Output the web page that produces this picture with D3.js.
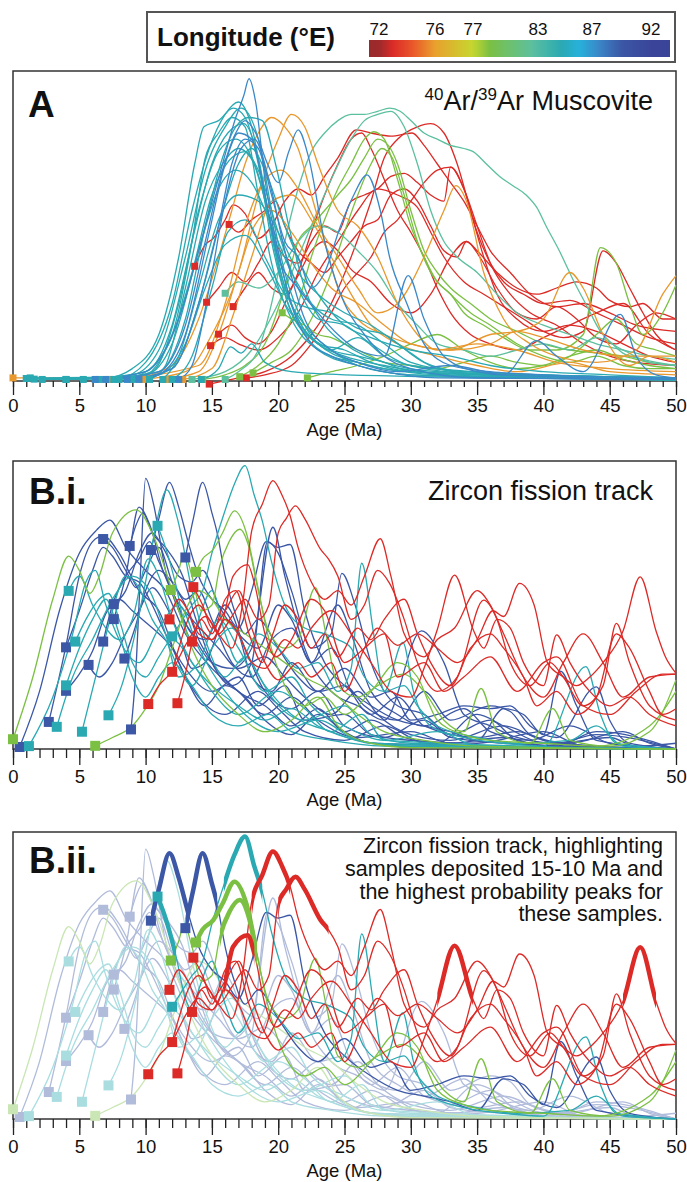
<!DOCTYPE html>
<html>
<head>
<meta charset="utf-8">
<script src="https://cdn.jsdelivr.net/npm/d3@7"></script>
<style>
  body { margin: 0; background: #fff; }
  svg { display: block; font-family: 'Liberation Sans', Arial, sans-serif; }
</style>
</head>
<body>
<svg id="chart" width="687" height="1182"></svg>
<script>
// ---- data (ages in Ma, relative probability 0-100 of panel height) ----
const ageTicks = [0, 5, 10, 15, 20, 25, 30, 35, 40, 45, 50]
const legendTicks = [72, 76, 77, 83, 87, 92]

// 40Ar/39Ar muscovite, one array of [age, probability] per sample, grouped by longitude colour
const arRed = [
  [[13.7,37],[14.5,44],[15.1,46],[16,52],[16.6,56.8],[17.5,54],[18.5,46],[19.5,50],[20.5,58],[21.5,62],[22.5,60],[23.5,66],[24.5,72],[25.9,81],[27,80],[28.5,79],[30.1,80],[31,76],[32,70],[33,64],[34,58],[35,50],[36,42],[37.5,35],[39,28],[41,24],[43,25],[45,22],[47,18],[50,16]],
  [[14.6,25.4],[15.5,30],[16.5,35],[17.5,32],[18.5,38],[19.5,45],[20.5,40],[21.5,38],[22.5,45],[23.5,50],[24.5,48],[25.5,58],[26.5,60],[27.5,62],[28.5,66],[29.5,67],[30.5,64],[31.5,60],[32.5,58],[33,69],[34,62],[35,48],[36,38],[37,32],[38.5,28],[40,25],[42,26],[44,22],[46,18],[48,14],[50,12]],
  [[16.3,50.5],[17,48],[18,52],[19,55],[19.8,58],[20.5,50],[21.5,42],[22.5,38],[23.5,35],[24.5,40],[25.5,45],[26.5,50],[27.5,52],[28.5,60],[29.5,62],[30.5,58],[31.5,50],[32.5,42],[33.5,40],[34.2,45],[35,42],[36.5,35],[38,30],[39.5,28],[41,30],[42.5,32],[44,30],[45,26],[46.5,24],[47.5,25],[49,20],[50,20]],
  [[15.5,15.1],[16.5,18],[17.5,14],[18.5,12],[19.5,16],[20.5,25],[21.5,35],[22.5,48],[23.5,60],[24.5,70],[25.5,78],[26.3,80],[27,75],[28,65],[29,55],[30,48],[31,40],[32,30],[33,22],[34.5,15],[36,12],[38,10],[40,14],[42,18],[44,22],[46,25],[48,15],[50,10]],
  [[14.9,11.4],[16,14],[17,12],[18.5,10],[20,14],[21.5,22],[23,35],[24.5,45],[26,55],[27.5,62],[29,60],[30.5,56],[31.5,48],[32.5,40],[34,32],[35.5,28],[37,24],[38.5,20],[40,16],[41.5,14],[43,16],[44.5,42],[45.5,38],[46.5,30],[47.5,22],[48.5,15],[50,10]],
  [[16.6,24],[17.5,30],[18.5,35],[19.5,30],[20.5,28],[21.5,34],[22.5,42],[23.5,45],[24.5,42],[25.5,36],[27,32],[28.5,25],[30,22],[31.5,28],[33,40],[34.2,45],[35.2,40],[36.5,30],[38,22],[39.5,20],[41,24],[42.5,20],[44,14],[45.5,12],[47,18],[48.5,22],[50,20]],
  [[14.8,-1],[17,1],[19,3],[21,8],[22.5,15],[24,25],[25.5,40],[27,58],[28,72],[29,78],[30.5,82],[31.5,83],[32.5,80],[33.5,70],[34.5,55],[35.5,40],[36.5,28],[38,20],[40,16],[42,18],[44,16],[46,12],[48,8],[50,6]],
  [[17.6,1],[19,2],[21,5],[22.5,12],[24,22],[25,30],[26,35],[27,40],[28,48],[29,52],[30,58],[31,64],[32,68],[33,69],[34,62],[35,50],[36,38],[37.5,28],[39,22],[41,18],[43,12],[45,8],[47,6],[50,5]]
]
const arOrange = [
  [[0,1],[9,1],[12,5],[14,20],[15.5,40],[16.5,55],[17.5,70],[18.5,80],[19.5,85],[20.5,82],[21.5,75],[22.5,60],[23.5,45],[24.5,30],[26,20],[28,15],[30,12],[33,10],[36,12],[38,16],[40,14],[43,10],[46,8],[50,8]],
  [[9.8,0.5],[13,3],[15,15],[17,35],[18.5,60],[20,78],[21,86],[22,82],[23,70],[24.5,55],[26,50],[27.5,40],[29,25],[30.5,15],[32,10],[35,12],[38,10],[41,6],[45,4],[50,3]],
  [[7.3,0.5],[14,5],[16,25],[17.5,50],[19,65],[20.2,68],[21.5,62],[23,50],[24.5,40],[26,30],[27.5,22],[29,25],[31,40],[32.5,55],[33.4,63],[34.2,58],[35.5,35],[37,20],[39,12],[41,8],[44,6],[47,10],[49,28],[50,34]],
  [[11.5,0.5],[14,3],[15.5,15],[17,35],[18.2,50],[19.5,55],[21,48],[22.5,38],[24,30],[26,25],[28,18],[30,12],[33,10],[36,15],[38,16],[40,20],[42,35],[43,30],[44.5,15],[46.5,5],[48,8],[50,6]],
  [[12.8,0.5],[15,4],[16.5,20],[18,40],[19.5,58],[21,60],[22.5,52],[24,40],[25.5,28],[27,18],[29,12],[32,8],[35,5],[38,3],[42,6],[45,3],[50,2]]
]
const arGreen = [
  [[17.1,1.4],[18.5,5],[20,12],[21.5,25],[22.5,40],[23.5,52],[24.5,62],[25.5,70],[26.5,78],[27.2,80.4],[28,78],[29,65],[30,50],[31,40],[32,32],[33,28],[34,22],[35.5,18],[37,14],[39,10],[41,10],[43,15],[44.3,43],[45.5,38],[46.5,25],[47.5,15],[49,22],[50,31]],
  [[18.1,2.6],[19.5,6],[21,10],[22.5,20],[24,35],[25,48],[26,60],[27,70],[27.8,75],[28.6,72],[29.5,60],[30.5,45],[31.5,35],[33,28],[34.5,22],[36,18],[38,12],[40,8],[42,6],[44,8],[46,5],[48,4],[50,4]],
  [[20.3,22],[21,20],[22,18],[23,15],[24,14],[25,12],[26,10],[27,8],[28,6],[30,5],[32,4],[34,6],[36,8],[38,6],[40,5],[42,8],[44,15],[45.5,20],[47,12],[48.5,10],[50,8]],
  [[22.2,1],[24,3],[26,5],[28,8],[30,12],[32,15],[34,10],[36,6],[38,4],[40,5],[42,8],[44,10],[46,7],[48,5],[50,4]],
  [[14.3,0.5],[16,2],[17.5,5],[19,12],[20.5,30],[21.5,45],[22.5,50],[23.5,55],[24.5,60],[25.5,65],[26.5,72],[27.5,78],[28.3,76],[29,70],[30,55],[31,42],[32,35],[33,30],[34.5,25],[36,20],[38,16],[40,12],[42,10],[44,9],[46,8],[48,6],[50,5]]
]
const arMint = [
  [[16,28.3],[17,32],[18.5,30],[20,35],[21.5,45],[23,50],[24.5,48],[26,42],[27.5,35],[29,25],[30.5,18],[32,12],[34,10],[36,8],[38,10],[40,12],[42,10],[44,14],[46,10],[48,6],[50,5]],
  [[16,0.5],[17,3],[18.5,10],[19.5,25],[20.5,45],[21.5,62],[22.5,74],[23.5,80],[24.5,84],[25.5,86],[26.5,86],[27.5,87],[28.4,88],[29.2,87],[30,84],[31,80],[32,78],[33,76],[34,75],[34.7,74],[35.7,70],[36.7,66],[37.7,63],[38.7,60],[39.5,56],[40.2,50],[41.2,42],[42.2,33],[43.3,24],[44.3,16],[45.2,12],[46,9],[47.5,7],[50,5]],
  [[13.5,0.5],[16,3],[18,10],[20,25],[22,45],[24,65],[25.5,78],[26.5,84],[27.5,86],[28.5,87],[29.5,82],[30.5,70],[31.5,55],[32.5,45],[33.5,40],[35,35],[36.5,28],[38,22],[40,18],[42,15],[44,12],[46,10],[48,8],[50,7]]
]
const arTeal = [
  [[1.0,0.8],[7,1],[9,4],[11,15],[12.5,40],[13.7,70],[14.4,82],[15.5,84],[16.6,88],[17.5,85],[18.5,70],[19.5,45],[20.5,28],[22,15],[24,8],[26,6],[28,4],[32,2],[40,1],[50,0.5]],
  [[1.6,0.6],[8,1],[10,6],[12,25],[13.5,55],[14.8,75],[16,86],[17,90],[18,82],[19,60],[20,38],[21.5,20],[23,12],[25,10],[27,6],[30,3],[35,2],[50,0.5]],
  [[4,0.5],[9,2],[11,10],[13,40],[14.5,68],[16,82],[17.2,88],[18.5,78],[19.5,55],[20.5,35],[22,18],[24,10],[26,14],[28,8],[31,4],[36,2],[50,0.5]],
  [[5.3,0.5],[10,3],[12,18],[13.5,45],[15,70],[16.2,80],[17.4,83],[18.6,70],[19.6,45],[21,22],[23,12],[25,8],[28,5],[33,2],[50,0.3]],
  [[7.6,0.5],[10.5,3],[12.5,25],[14,55],[15.5,74],[16.8,78],[18,72],[19.2,55],[20.5,30],[22,18],[24,10],[26,5],[30,2],[50,0.3]],
  [[10.3,0.5],[11.5,5],[13,30],[14.5,58],[15.8,70],[17,75],[18.2,70],[19.5,50],[21,25],[23,12],[26,6],[30,3],[50,0.3]],
  [[1.3,1],[9,1.5],[11.5,10],[13.5,35],[15,60],[16.5,72],[17.5,74],[18.5,68],[20,48],[21.5,30],[23,20],[25,18],[27,12],[30,5],[35,3],[50,1]],
  [[4,0.5],[10,2],[12,12],[14,42],[15.5,62],[16.8,68],[18,64],[19.5,50],[21,35],[22.5,25],[24,20],[26,18],[28,12],[30,6],[34,3],[50,1]],
  [[11.3,0.5],[12.5,8],[14,30],[15.5,52],[17,60],[18.5,58],[20,48],[21.5,35],[23,28],[25,22],[27,18],[29,12],[31,6],[34,3],[50,1]],
  [[12,0.5],[13.5,8],[15,30],[16.2,48],[17.5,52],[19,40],[20.5,28],[22,24],[24,22],[26,17],[28,15],[30,9],[32,4],[36,2],[50,1]],
  [[8,0.5],[11,2],[13,12],[14.5,30],[16,44],[17.5,47],[19,38],[20.5,25],[22,16],[24,10],[26,8],[28,6],[30,3],[50,1]],
  [[14.2,0.5],[15.5,4],[16.4,11],[17.2,9],[18,12],[19,6],[21,3],[25,2],[50,0.5]],
  [[2.2,0.5],[9.5,1],[12,15],[13.5,45],[14.5,72],[15.5,80],[16.5,85],[17.5,82],[18.5,60],[19.5,38],[21,20],[23,10],[26,5],[30,2],[50,0.5]],
  [[9,0.5],[12,4],[14,25],[15.5,50],[17,70],[18,75],[19,68],[20.5,50],[22,35],[23.5,25],[25,18],[27,14],[30,10],[33,8],[36,5],[40,3],[45,2],[50,1]],
  [[6.5,0.5],[11,3],[13,20],[14.5,50],[15.8,72],[16.8,82],[17.8,85],[18.8,84],[19.8,70],[20.8,50],[22,30],[23.5,18],[25,12],[28,6],[32,3],[50,1]]
]
const arBlue = [
  [[6.2,0.5],[10,3],[12.5,20],[14.5,50],[15.8,70],[16.8,85],[17.4,92],[17.8,97.5],[18.3,90],[19,65],[20,42],[21.2,22],[22.5,12],[24,8],[26,5],[28,3],[32,1],[50,0.5]],
  [[7,0.5],[11,3],[13,18],[14.5,45],[15.8,68],[16.8,80],[17.5,84],[18.3,80],[19.2,70],[20,64],[20.8,74],[21.5,81],[22.3,72],[23.5,45],[25,25],[26.5,15],[28,8],[30,4],[35,1],[50,0.5]],
  [[8.6,0.5],[12,4],[14,25],[15.5,50],[16.5,70],[17.5,78],[18.5,75],[19.5,60],[20.5,45],[21.5,40],[22.5,30],[23.5,35],[24.7,50],[25.7,60],[26.7,66.5],[27.7,55],[28.4,40],[29.7,25],[31,12],[33,5],[36,3],[40,2],[50,1]],
  [[9.5,0.5],[11,2],[13,15],[14.8,48],[16,70],[17,80],[18,78],[19,60],[20,40],[21.5,30],[23,22],[24.5,15],[26,10],[28,8],[29.8,34],[31,20],[32.5,8],[35,3],[37,2],[39.5,13],[41,8],[43,3],[45.8,21.5],[47,8],[48.5,2],[50,1]],
  [[12.5,0.5],[13.5,5],[14.8,30],[16,58],[17.2,75],[18.2,78],[19.3,65],[20.5,42],[22,20],[24,10],[26,6],[29,3],[33,5],[37,2],[50,0.5]]
]

// Zircon fission track samples
const zftBlue = [
  [[0.5,0.7],[2,20],[3.5,48],[5,68],[6.3,76],[7.3,79.5],[8.5,70],[10,62],[11.5,55],[13,40],[15,28],[17,20],[19,12],[21,18],[23,10],[26,4],[30,6],[33,2],[37,4],[40,1],[50,0]],
  [[2.7,9.4],[4,36],[5,60],[6,72],[6.8,74],[8,68],[9.5,55],[11,48],[12.5,30],[14,18],[16,12],[18.5,20],[20,14],[22,6],[25,3],[28,8],[31,2],[35,1],[50,0]],
  [[8.9,6.8],[9.3,30],[9.6,60],[10,94],[10.6,85],[11.5,62],[12.5,48],[13.5,40],[15,30],[16.5,28],[18,35],[19.6,77],[20.5,60],[22,35],[24,20],[26,15],[28,10],[30.8,41],[32.5,30],[34,12],[36,8],[38,4],[41,2],[44,5],[50,0]],
  [[4,35.3],[5,48],[6,62],[6.8,70],[7.5,67],[8.5,60],[9.5,58],[10.5,50],[11.5,40],[13,28],[15,20],[17,25],[18.5,15],[20.5,22],[22,10],[25,12],[27,5],[30,3],[35,2],[40,6],[43,1],[50,0]],
  [[5.7,29.2],[6.5,25],[7.5,30],[8.5,40],[9.5,48],[10.5,56],[11.5,50],[12.5,40],[13.5,28],[14.5,30],[16,45],[17,40],[18,25],[19.5,20],[21,30],[23,20],[25,22],[26.5,15],[29,10],[31,20],[33,10],[36,15],[37.5,13],[39,5],[42,2],[46,6],[48,2],[50,0]],
  [[6.8,37.3],[7.5,50],[8.5,60],[9.5,66],[10.3,72],[11,65],[12,55],[13.5,40],[14.5,38],[16,50],[17.5,35],[19,20],[21,14],[23,20],[25,8],[28,4],[31,10],[33,4],[37,2],[50,0]],
  [[7.6,50.3],[8.5,55],[9.5,68],[10.5,75],[11.3,70],[12.5,60],[13.5,58],[14.3,62],[15.5,50],[17,40],[18.5,35],[20,50],[21,45],[22.5,30],[24.5,50],[25.5,40],[27,20],[29,12],[31,8],[34,14],[36,6],[39,3],[42,8],[45,2],[50,0]],
  [[7.6,45.1],[8.5,60],[9.5,84],[10.3,78],[11.3,62],[12.3,52],[13.5,45],[14.5,40],[15.5,35],[17,28],[19,32],[20.5,25],[22,18],[24,12],[26,20],[27.5,12],[30,5],[33,3],[37,8],[40,3],[44,1],[50,0]],
  [[8.4,31.4],[9.2,42],[10,55],[11,62],[12,58],[13,52],[14,55],[15,45],[16.5,30],[18,25],[19.5,38],[21,42],[22.5,30],[24,35],[25.5,20],[27,12],[29,18],[31,8],[35,4],[38,6],[41,2],[45,4],[47,1],[50,2]],
  [[4,20.2],[5,26],[6,34],[7,47],[8,52],[9,48],[10,44],[11,40],[12,35],[13,25],[14.5,15],[16,22],[17.5,18],[19,10],[21,5],[23,12],[25,6],[27,2],[50,0]],
  [[8.8,70.5],[9.3,78],[9.8,82],[10.5,75],[11.5,70],[12.8,60],[13.8,45],[15,30],[16.5,22],[18,30],[19.2,72],[20,68],[21,55],[22.5,35],[24,40],[24.8,61],[25.8,50],[27,30],[29,15],[31,12],[33,5],[36,10],[38,3],[41,1],[44,6],[50,0]],
  [[6.8,72.9],[7.5,70],[8.5,62],[9.3,56],[10,62],[11,70],[12,58],[13,50],[14,38],[15,30],[17,20],[19,15],[21,8],[23,14],[25,6],[27,10],[29.5,4],[32,2],[35,12],[37,8],[40,2],[50,0]],
  [[10.4,69.1],[11,80],[11.8,92.6],[12.5,84],[13.2,72],[14,60],[15,52],[16,48],[17,42],[18,55],[19.1,72],[20,70],[20.9,71],[22,48],[23.5,30],[25,22],[27,15],[29,10],[31,8],[33,6],[35,3],[37,14],[38.5,12],[40,5],[41.3,27],[42.5,15],[44,3],[50,0]],
  [[13,66.5],[13.6,80],[14.3,92.6],[15,82],[15.4,75],[16,60],[16.7,48],[17.5,40],[18.5,45],[20,35],[21.5,25],[23,20],[25,28],[27,18],[28.5,20],[30,10],[32,12],[34,15],[36,14],[37.5,15],[39,8],[41,4],[44,21.6],[45,10],[46.5,2],[50,0]]
]
const zftTeal = [
  [[1.2,1],[3,18],[4.5,40],[5.5,58],[6.2,62],[7,50],[8,38],[9.5,30],[11,42],[12.5,50],[14,35],[16,20],[18,10],[20,6],[23,10],[26,3],[30,1],[50,0]],
  [[3.3,7.7],[4.5,25],[6,38],[7.5,52],[9,60],[10.3,55],[11.5,40],[12.5,25],[14,30],[15.5,45],[17,35],[19,20],[21,25],[22.5,15],[25,8],[28,3],[32,6],[35,1],[50,0]],
  [[5.2,6],[6.5,30],[7.5,48],[8.5,60],[9.5,56],[10.5,45],[11.5,38],[12.5,28],[13.5,22],[15,35],[16.5,42],[18,30],[19.5,18],[22,10],[25,15],[27,5],[30,2],[50,0]],
  [[7.2,11.7],[8.2,22],[9.2,40],[10,58],[10.8,78],[11.6,90],[12.4,80],[13.5,55],[14.5,38],[16,25],[17.5,32],[19,22],[21,12],[24,6],[27,2],[50,0]],
  [[4.2,54.9],[5,60],[6,50],[7,42],[8,38],[9,45],[10.2,66],[11,60],[12,45],[13.5,30],[15,22],[17,15],[19,10],[21,14],[23,8],[26,3],[30,1],[50,0]],
  [[4.7,37.3],[5.5,45],[6.5,52],[7.2,54],[8,45],[9,30],[10,25],[11,32],[12,38],[13.5,30],[15,20],[17,12],[20,20],[22,14],[24,6],[26.3,12],[28,3],[50,0]],
  [[4,22.1],[5,35],[6,45],[7,52],[8,40],[9,25],[10,18],[11,25],[12,30],[13.5,22],[15,12],[17,8],[19.3,12],[21,6],[24,3],[28,1],[50,0]],
  [[10.9,77.5],[11.5,70],[12.3,56.6],[13,42],[13.5,38],[14,45],[15,55],[16,40],[17,30],[18.5,40],[20,35],[21.5,28],[23,30],[24.5,20],[25.5,28],[26.3,64.5],[27.2,40],[28,20],[29.4,37],[30.2,20],[31.5,8],[34,4],[37,2],[40,1],[43.2,28.6],[44.3,12],[45.5,2],[50,0]],
  [[12,39.1],[12.8,45],[13.5,50],[14.3,55],[15,68],[15.9,81.5],[16.7,92],[17.5,98.4],[18.2,88],[18.8,79.2],[19.5,65],[20.5,50],[22,42],[23.5,40],[24.5,38],[25.5,35],[26.5,25],[28,20],[29.5,22],[30.5,15],[32,8],[35,4],[38,2],[42,3],[44,8],[46,1],[50,0]]
]
const zftGreen = [
  [[0,3.4],[1.5,25],[3,52],[4.2,67],[5,62],[5.8,54],[6.5,60],[7.5,75],[9.3,83],[10.5,75],[12,55],[13.5,35],[15,22],[17,12],[19,6],[21,10],[23,18],[24.5,8],[27,2],[30,0.5],[50,0]],
  [[6.2,1.1],[7.5,4],[9,8],[10,14],[11,22],[12,35],[13,48],[14,55],[15,52],[16,45],[17.5,40],[19,35],[20.5,30],[22,25],[24,20],[26,12],[28,6],[31,3],[35,1],[50,0]],
  [[11.9,55.2],[12.5,62],[12.9,68],[13.5,60],[14.2,48],[15,50],[15.6,63.5],[16.3,72],[17.1,76.3],[17.8,70],[18.4,57],[19.2,42],[20.5,35],[21.5,38],[22.8,56],[23.6,40],[24.5,22],[26,18],[27.5,22],[29.4,26],[31,20],[32.5,10],[34,6],[35.3,21],[36.5,6],[39,2],[40.7,14],[42,3],[45,1],[48,6],[50,24]],
  [[13.8,61.5],[14.3,66],[15.1,69.3],[15.8,75],[16.7,82.7],[17.6,75],[18.4,57.7],[19.2,40],[20.5,22],[22,15],[23.5,18],[25,12],[27,20],[29,30],[30.5,25],[32,10],[34,5],[36,3],[40,2],[44,1],[48,8],[50,20]]
]
const zftRed = [
  [[10.2,15.6],[11,22],[12,27],[13,36],[14,42],[15,38],[15.9,46],[16.6,60],[17.7,64],[18.2,57.7],[19,40],[19.8,32],[21,38],[22.5,52],[23.5,48],[25,30],[26.5,35],[28,40],[29,25],[31,30],[32.5,20],[34,25],[36,32],[38,20],[40,30],[41,32],[43,15],[45,12],[47,20],[49,26],[50,26]],
  [[12.4,15.9],[13,26],[13.5,37],[14.5,46],[15.5,40],[16.5,35],[17.3,50],[18,75.7],[18.8,85],[19.6,93.2],[20.3,88],[20.9,81],[21.5,70],[22.5,58],[23.5,52],[24.5,55],[25.5,50],[26.5,60],[27.7,73],[28.5,60],[29.5,40],[31,32],[32,38],[33.3,42],[35,55],[36,50],[37,40],[38.5,25],[40,18],[41.5,30],[43,40],[44.5,30],[46,18],[48,25],[50,26]],
  [[12,26.8],[12.5,35],[13.2,45],[14,50],[14.8,45],[15.5,40],[16.5,46],[17.5,52],[18.5,45],[19.3,50],[20,75],[20.6,80],[21.3,84.4],[22,80],[23.2,69.3],[23.8,65.9],[24.5,60],[25.5,45],[26.5,50],[27.5,62],[28.4,57.5],[29.5,45],[30.5,30],[32,20],[33.5,25],[35.5,51.7],[36.5,45],[37.5,30],[39,22],[40.5,30],[41.5,25],[43,15],[44.5,22],[45.5,43.6],[46.5,30],[48,15],[50,10]],
  [[11.8,45],[12.5,52],[13.2,48],[14,40],[15,38],[16,45],[17,40],[18,30],[19,28],[20.5,38],[21.5,35],[22.5,42],[24,48],[25.5,40],[27,30],[28.5,20],[30,18],[31,28],[32,41.5],[33.3,60.4],[34.7,41.5],[35.5,35],[36.5,45],[37.5,42],[38.5,30],[40,22],[41,39.6],[42,30],[43.5,20],[45,15],[46.5,18],[48,12],[50,8]],
  [[13.6,56.2],[14.3,50],[15,42],[16,48],[17,55],[18,42],[19,30],[20,24],[21.5,30],[22.5,25],[24,30],[25,20],[26.5,35],[27.5,42],[29,36],[30.5,40],[32,35],[33.5,30],[35,38],[36.2,48],[37,46],[38.2,57.5],[39.3,50],[40.3,30],[41.5,25],[42.5,22],[43.5,25],[44.5,30],[46,40.9],[47.3,59.8],[48.5,40.9],[49.2,32],[50,26.3]],
  [[13.5,37.3],[14.2,45],[15,40],[16,52],[16.8,55],[17.8,40],[18.8,30],[19.6,40],[20.5,50],[21.5,45],[22.5,35],[23.5,40],[24.5,32],[26,42],[27,38],[28,45],[29.5,52],[30.5,40],[31.5,30],[33,22],[34.5,35],[36,40],[37,35],[38.5,25],[39.5,15],[41,20],[42.5,12],[44,18],[45.5,40],[46.5,35],[48,20],[49,12],[50,14]]
]
// highest-probability peaks of the 15-10 Ma samples: [group, sample index, from age, to age]
const zftPeaks = [
  ['blue', 12, 10.4, 13.2], ['blue', 13, 13.0, 15.4],
  ['teal', 7, 10.9, 12.3], ['teal', 8, 15.9, 18.8],
  ['green', 2, 15.6, 18.4], ['green', 3, 13.8, 18.4],
  ['red', 0, 15.9, 18.2], ['red', 1, 18.0, 20.9], ['red', 2, 20.0, 23.8],
  ['red', 3, 32.0, 34.7], ['red', 4, 46.0, 48.5]
]

// ---- scales ----
const lonColor = d3.scaleLinear()
  .domain([72, 73, 74.5, 76, 77, 78.5, 82.5, 84.8, 86, 87.5, 89.5, 92])
  .range(['#9b2a2c', '#dc2b27', '#ea5a2a', '#e8a12d', '#c5d72f', '#7bc043', '#5cc09f', '#2aa9b2', '#27b2dc', '#3a88c8', '#3b57a6', '#3a4599'])
  .clamp(true)

const arGroups = [[arRed, 73], [arGreen, 78.5], [arMint, 82.5], [arOrange, 75.8], [arTeal, 84.8], [arBlue, 87.5]]
const zftGroups = { blue: [zftBlue, 89.5], teal: [zftTeal, 84.8], green: [zftGreen, 78.5], red: [zftRed, 73] }
const zftOrder = ['blue', 'teal', 'green', 'red']

const x = d3.scaleLinear().domain([0, 50]).range([13, 676])
const svg = d3.select('#chart')

function drawFrame (g, y, minor, major, pad, labelY) {
  g.append('rect')
    .attr('x', x(0)).attr('y', y.range()[1])
    .attr('width', x(50) - x(0)).attr('height', y.range()[0] - y.range()[1])
    .attr('fill', 'none').attr('stroke', '#333').attr('stroke-width', 1.5)

  const base = y.range()[0]
  const minorAxis = g.append('g').attr('transform', 'translate(0,' + base + ')')
    .call(d3.axisBottom(x).tickValues(d3.range(0, 51)).tickSize(minor).tickSizeOuter(0).tickFormat(''))
  const majorAxis = g.append('g').attr('transform', 'translate(0,' + base + ')')
    .call(d3.axisBottom(x).tickValues(ageTicks).tickSize(major).tickSizeOuter(0).tickPadding(pad))
  for (const a of [minorAxis, majorAxis]) {
    a.select('.domain').remove()
    a.selectAll('line').attr('stroke', '#222').attr('stroke-width', 1.3)
  }
  majorAxis.selectAll('text').attr('font-size', 18.5).attr('fill', '#111')
    .attr('font-family', "'Liberation Sans', Arial, sans-serif")

  g.append('text').text('Age (Ma)')
    .attr('x', (x(0) + x(50)) / 2).attr('y', labelY)
    .attr('text-anchor', 'middle').attr('font-size', 18.5).attr('fill', '#111')
}

function drawCurves (g, y, curves, color, width) {
  const line = d3.line().x(d => x(d[0])).y(d => y(d[1])).curve(d3.curveMonotoneX)
  g.selectAll(null).data(curves).join('path')
    .attr('d', line)
    .attr('fill', 'none').attr('stroke', color).attr('stroke-width', width)
    .attr('stroke-linejoin', 'round')
}

function drawSquares (g, y, curves, color, size) {
  g.selectAll(null).data(curves).join('rect')
    .attr('x', d => x(d[0][0]) - size / 2).attr('y', d => y(d[0][1]) - size / 2)
    .attr('width', size).attr('height', size).attr('fill', color)
}

function panelTitle (g, label, lx, ly) {
  g.append('text').text(label).attr('x', lx).attr('y', ly)
    .attr('font-size', 37).attr('font-weight', 'bold').attr('fill', '#111')
}

// ---- legend ----
const legendX = d3.scaleLinear().domain(legendTicks).range([379, 435, 473, 538, 592, 651])
const defs = svg.append('defs')
const grad = defs.append('linearGradient').attr('id', 'lonGrad')
  .attr('gradientUnits', 'userSpaceOnUse').attr('x1', 369).attr('x2', 670).attr('y1', 0).attr('y2', 0)
grad.selectAll('stop').data(d3.range(0, 1.0001, 0.02)).join('stop')
  .attr('offset', d => d)
  .attr('stop-color', d => lonColor(legendX.invert(369 + d * 301)))

const legend = svg.append('g')
legend.append('rect').attr('x', 147).attr('y', 12).attr('width', 528).attr('height', 50)
  .attr('fill', '#fff').attr('stroke', '#555').attr('stroke-width', 2)
legend.append('text').text('Longitude (°E)').attr('x', 157).attr('y', 46)
  .attr('font-size', 26).attr('font-weight', 'bold').attr('fill', '#111')
legend.append('rect').attr('x', 369).attr('y', 40).attr('width', 301).attr('height', 17)
  .attr('fill', 'url(#lonGrad)')
legend.selectAll(null).data(legendTicks).join('text')
  .text(d => d).attr('x', d => legendX(d)).attr('y', 35)
  .attr('text-anchor', 'middle').attr('font-size', 17).attr('fill', '#111')

// ---- panel A: 40Ar/39Ar muscovite ----
const yA = d3.scaleLinear().domain([0, 100]).range([381, 71])
const gA = svg.append('g')
drawFrame(gA, yA, 6, 14, 4, 436)
for (const [curves, lon] of arGroups) drawCurves(gA, yA, curves, lonColor(lon), 1.3)
for (const [curves, lon] of arGroups) drawSquares(gA, yA, curves, lonColor(lon), 7)
panelTitle(gA, 'A', 28, 117)
const tA = gA.append('text').attr('x', 653).attr('y', 110).attr('text-anchor', 'end')
  .attr('font-size', 27).attr('fill', '#111')
tA.append('tspan').text('40').attr('font-size', 17).attr('dy', -10)
tA.append('tspan').text('Ar/').attr('dy', 10)
tA.append('tspan').text('39').attr('font-size', 17).attr('dy', -10)
tA.append('tspan').text('Ar Muscovite').attr('dy', 10)

// ---- panel B.i: zircon fission track ----
const yB1 = d3.scaleLinear().domain([0, 100]).range([749, 461])
const gB1 = svg.append('g')
drawFrame(gB1, yB1, 9, 16, 5, 806)
for (const k of zftOrder) drawCurves(gB1, yB1, zftGroups[k][0], lonColor(zftGroups[k][1]), 1.3)
for (const k of zftOrder) drawSquares(gB1, yB1, zftGroups[k][0], lonColor(zftGroups[k][1]), 10)
panelTitle(gB1, 'B.i.', 29, 504)
gB1.append('text').text('Zircon fission track').attr('x', 653).attr('y', 500)
  .attr('text-anchor', 'end').attr('font-size', 27).attr('fill', '#111')

// ---- panel B.ii: samples deposited 15-10 Ma highlighted ----
const yB2 = d3.scaleLinear().domain([0, 100]).range([1119, 832])
const gB2 = svg.append('g')
drawFrame(gB2, yB2, 9, 16, 5, 1177)
const inWindow = c => c[0][0] >= 10 && c[0][0] <= 15
const fade = c => d3.interpolateRgb(c, '#fff')(0.6)
for (const k of zftOrder) {
  const [curves, lon] = zftGroups[k]
  drawCurves(gB2, yB2, curves.filter(c => !inWindow(c)), fade(lonColor(lon)), 1.3)
}
for (const k of zftOrder) {
  const [curves, lon] = zftGroups[k]
  drawSquares(gB2, yB2, curves.filter(c => !inWindow(c)), fade(lonColor(lon)), 10)
}
for (const k of zftOrder) {
  const [curves, lon] = zftGroups[k]
  drawCurves(gB2, yB2, curves.filter(inWindow), lonColor(lon), 1.3)
}
// thick strokes on the highest peaks, clipped to the age window of each peak
const lineB2 = d3.line().x(d => x(d[0])).y(d => yB2(d[1])).curve(d3.curveMonotoneX)
zftPeaks.forEach(([k, i, a0, a1], n) => {
  const [curves, lon] = zftGroups[k]
  defs.append('clipPath').attr('id', 'pk' + n).append('rect')
    .attr('x', x(a0)).attr('y', 820).attr('width', x(a1) - x(a0)).attr('height', 310)
  gB2.append('path').attr('d', lineB2(curves[i]))
    .attr('clip-path', 'url(#pk' + n + ')')
    .attr('fill', 'none').attr('stroke', lonColor(lon)).attr('stroke-width', 4.5)
    .attr('stroke-linejoin', 'round')
})
for (const k of zftOrder) {
  const [curves, lon] = zftGroups[k]
  drawSquares(gB2, yB2, curves.filter(inWindow), lonColor(lon), 10)
}
panelTitle(gB2, 'B.ii.', 29, 873)
gB2.selectAll(null).data([
  'Zircon fission track, highlighting',
  'samples deposited 15-10 Ma and',
  'the highest probability peaks for',
  'these samples.'
]).join('text')
  .text(d => d).attr('x', 663).attr('y', (d, i) => 853 + i * 22.8)
  .attr('text-anchor', 'end').attr('font-size', 21.5).attr('fill', '#111')
</script>
</body>
</html>
